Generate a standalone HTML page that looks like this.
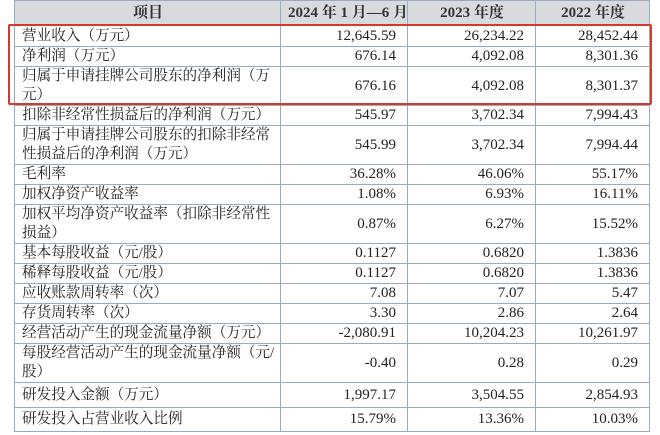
<!DOCTYPE html>
<html><head><meta charset="utf-8"><style>
body{margin:0;width:660px;height:435px;background:#fff;overflow:hidden;position:relative;font-family:"Liberation Serif","Noto Serif CJK SC",serif;color:#222}
table{position:absolute;left:14px;top:0;border-collapse:collapse;table-layout:fixed;width:635px}
td{border:1px solid #9aabbf;padding:0 6px 0 7px;font-size:15px;line-height:19px;white-space:nowrap;overflow:hidden}
td:first-child{font-size:14.6px}
td.n{text-align:right;padding-right:11px;font-size:15px}
tr.h td{background:#d8dadd;text-align:center;font-weight:bold;font-size:15px;color:#333}
#box{position:absolute;left:8px;top:24px;width:640px;height:77px;border:2.5px solid #d23a2a;border-radius:2px}
</style></head><body>
<table>
<colgroup><col style="width:266px"><col style="width:127px"><col style="width:128px"><col style="width:114px"></colgroup>
<tr class="h" style="height:25px"><td>项目</td><td>2024 年 1 月—6 月</td><td>2023 年度</td><td>2022 年度</td></tr>
<tr style="height:21px"><td>营业收入（万元）</td><td class="n">12,645.59</td><td class="n">26,234.22</td><td class="n">28,452.44</td></tr>
<tr style="height:18px"><td>净利润（万元）</td><td class="n">676.14</td><td class="n">4,092.08</td><td class="n">8,301.36</td></tr>
<tr style="height:39px"><td>归属于申请挂牌公司股东的净利润（万<br>元）</td><td class="n">676.16</td><td class="n">4,092.08</td><td class="n">8,301.37</td></tr>
<tr style="height:19px"><td>扣除非经常性损益后的净利润（万元）</td><td class="n">545.97</td><td class="n">3,702.34</td><td class="n">7,994.43</td></tr>
<tr style="height:39px"><td>归属于申请挂牌公司股东的扣除非经常<br>性损益后的净利润（万元）</td><td class="n">545.99</td><td class="n">3,702.34</td><td class="n">7,994.44</td></tr>
<tr style="height:19px"><td>毛利率</td><td class="n">36.28%</td><td class="n">46.06%</td><td class="n">55.17%</td></tr>
<tr style="height:19px"><td>加权净资产收益率</td><td class="n">1.08%</td><td class="n">6.93%</td><td class="n">16.11%</td></tr>
<tr style="height:39px"><td>加权平均净资产收益率（扣除非经常性<br>损益）</td><td class="n">0.87%</td><td class="n">6.27%</td><td class="n">15.52%</td></tr>
<tr style="height:19px"><td>基本每股收益（元/股）</td><td class="n">0.1127</td><td class="n">0.6820</td><td class="n">1.3836</td></tr>
<tr style="height:19px"><td>稀释每股收益（元/股）</td><td class="n">0.1127</td><td class="n">0.6820</td><td class="n">1.3836</td></tr>
<tr style="height:20px"><td>应收账款周转率（次）</td><td class="n">7.08</td><td class="n">7.07</td><td class="n">5.47</td></tr>
<tr style="height:20px"><td>存货周转率（次）</td><td class="n">3.30</td><td class="n">2.86</td><td class="n">2.64</td></tr>
<tr style="height:20px"><td>经营活动产生的现金流量净额（万元）</td><td class="n">-2,080.91</td><td class="n">10,204.23</td><td class="n">10,261.97</td></tr>
<tr style="height:38px"><td>每股经营活动产生的现金流量净额（元/<br>股）</td><td class="n">-0.40</td><td class="n">0.28</td><td class="n">0.29</td></tr>
<tr style="height:25px"><td>研发投入金额（万元）</td><td class="n">1,997.17</td><td class="n">3,504.55</td><td class="n">2,854.93</td></tr>
<tr style="height:24px"><td>研发投入占营业收入比例</td><td class="n">15.79%</td><td class="n">13.36%</td><td class="n">10.03%</td></tr>
</table>
<div id="box"></div>
</body></html>
